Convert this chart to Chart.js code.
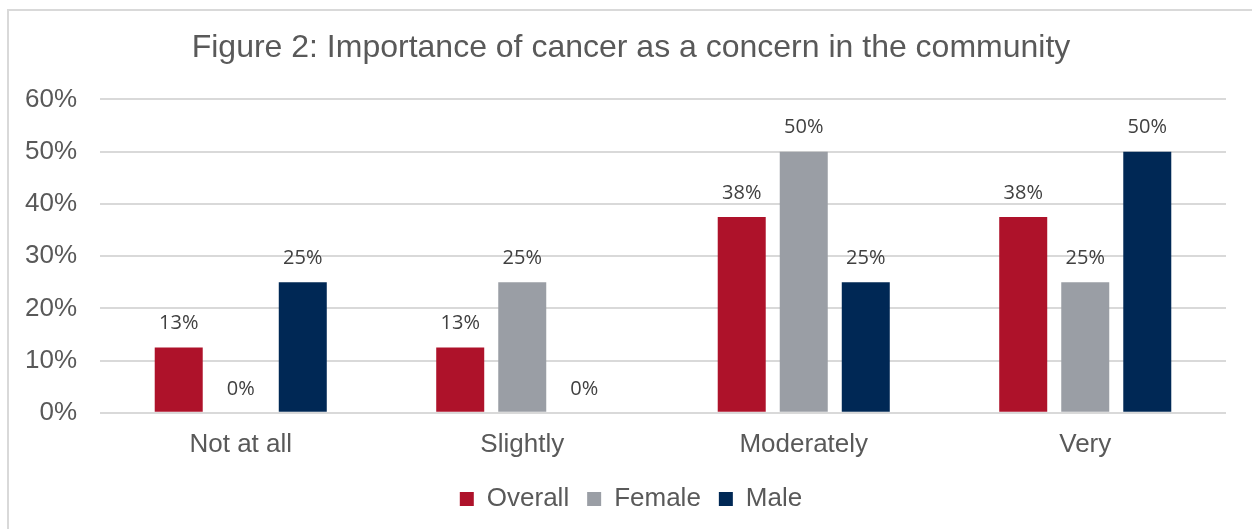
<!DOCTYPE html>
<html>
<head>
<meta charset="utf-8">
<script src="https://cdn.jsdelivr.net/npm/chart.js@4.4.1/dist/chart.umd.min.js"></script>
<style>
    html, body { margin: 0; padding: 0; background: #fff; overflow: hidden; }
    #frame { position: absolute; left: 7px; top: 9px; width: 1300px; height: 600px; border: 2px solid #d9d9d9; }
    #chart { position: absolute; left: 0; top: 0; }
</style>
</head>
<body>
<div id="frame"></div>
<canvas id="chart" width="1252" height="529"></canvas>
<script>
const categories = ['Not at all', 'Slightly', 'Moderately', 'Very'];
const overallValues = [12.5, 12.5, 37.5, 37.5];
const femaleValues = [0, 25, 50, 25];
const maleValues = [25, 0, 25, 50];
const yTicks = [0, 10, 20, 30, 40, 50, 60];

const textColor = '#595959';

// draws the percentage above each bar
const barLabels = {
    id: 'barLabels',
    afterDatasetsDraw(chart) {
        const ctx = chart.ctx;
        ctx.save();
        ctx.font = '20px "Open Sans"';
        ctx.fillStyle = '#404040';
        ctx.textAlign = 'center';
        ctx.textBaseline = 'middle';
        chart.data.datasets.forEach((ds, i) => {
            chart.getDatasetMeta(i).data.forEach((bar, j) => {
                ctx.fillText(Math.round(ds.data[j]) + '%', bar.x, bar.y - 24);
            });
        });
        ctx.restore();
    }
};

const config = {
    type: 'bar',
    data: {
        labels: categories,
        datasets: [
            { label: 'Overall', data: overallValues, backgroundColor: '#ae122a' },
            { label: 'Female', data: femaleValues, backgroundColor: '#9a9ea5' },
            { label: 'Male', data: maleValues, backgroundColor: '#002855' }
        ]
    },
    options: {
        responsive: false,
        animation: false,
        categoryPercentage: 0.661,
        barPercentage: 0.774,
        layout: { padding: { left: 10, right: 0, top: 0, bottom: 7 } },
        plugins: {
            title: {
                display: true,
                text: 'Figure 2: Importance of cancer as a concern in the community',
                color: textColor,
                font: { family: 'Arial', size: 32, weight: 'normal' },
                padding: { top: 29, bottom: 32 }
            },
            legend: {
                position: 'bottom',
                labels: {
                    color: textColor,
                    font: { family: 'Arial', size: 26 },
                    boxWidth: 14,
                    boxHeight: 14,
                    padding: 18
                }
            },
            tooltip: { enabled: false }
        },
        scales: {
            x: {
                grid: { display: false },
                border: { display: false },
                ticks: {
                    color: textColor,
                    font: { family: 'Arial', size: 26 },
                    padding: 8
                }
            },
            y: {
                min: 0,
                max: 60,
                afterBuildTicks: axis => { axis.ticks = yTicks.map(v => ({ value: v })); },
                afterFit: axis => { axis.width = 90; },
                grid: { color: '#d9d9d9', lineWidth: 2, drawTicks: false },
                border: { display: false },
                ticks: {
                    color: textColor,
                    font: { family: 'Arial', size: 26 },
                    padding: 23,
                    callback: v => v + '%'
                }
            },
            // empty right-hand strip so the title centres like the original
            yRight: {
                type: 'linear',
                position: 'right',
                grid: { display: false },
                border: { display: false },
                ticks: { display: false },
                afterFit: axis => { axis.width = 26; }
            }
        }
    },
    plugins: [barLabels]
};

new Chart(document.getElementById('chart').getContext('2d'), config);
</script>
</body>
</html>
